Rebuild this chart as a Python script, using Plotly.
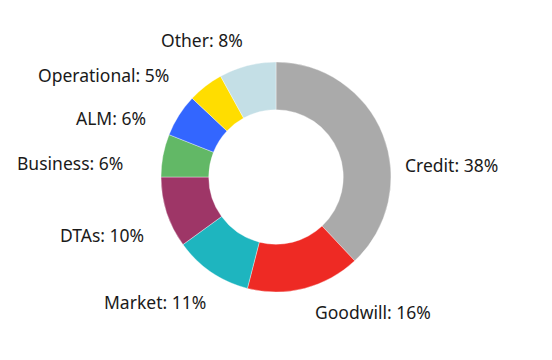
import math
import plotly.graph_objects as go

labels = ["Credit", "Goodwill", "Market", "DTAs", "Business", "ALM", "Operational", "Other"]
values = [38, 16, 11, 10, 6, 6, 5, 8]
colors = ["#aaaaaa", "#ee2a24", "#1eb5bf", "#9e3667", "#62b866", "#3366ff", "#ffdd00", "#c4dfe6"]

# label placement tweaks (angle offset in degrees, radial offset in px)
label_angle_nudge = [16.2, -0.9, -5.7, -6.0, -5.5, -7.6, -8.0, 1.6]
label_radius_nudge = [-14, -2, 0, 0, 10, -1, 4, -1.5]

W, H = 552, 360
PAGE_OFF = 8          # default body margin of the html page
CX, CY = 276, 177     # desired pie centre on screen (px)
R = 115               # outer radius (px)
LABEL_R = 142

cx_div, cy_div = CX - PAGE_OFF, CY - PAGE_OFF
dom_x = [(cx_div - R) / W, (cx_div + R) / W]
dom_y = [1 - (cy_div + R) / H, 1 - (cy_div - R) / H]

fig = go.Figure(go.Pie(
    labels=labels,
    values=values,
    hole=0.585,
    sort=False,
    direction="clockwise",
    rotation=0,
    marker=dict(colors=colors, line=dict(width=0.6, color="rgba(255,255,255,0.6)")),
    textinfo="none",
    hoverinfo="label+percent",
    domain=dict(x=dom_x, y=dom_y),
    showlegend=False,
))

total = sum(values)
cum = 0
annotations = []
for lab, v, an, rn in zip(labels, values, label_angle_nudge, label_radius_nudge):
    mid = (cum + v / 2) / total * 360
    cum += v
    th = math.radians(mid + an)
    r = LABEL_R + rn
    px = cx_div + r * math.sin(th)
    py = cy_div - r * math.cos(th)
    right_side = math.sin(math.radians(mid)) > 0
    annotations.append(dict(
        x=px / W, y=1 - py / H, xref="paper", yref="paper",
        text=f"{lab}: {round(v / total * 100)}%",
        showarrow=False,
        xanchor="left" if right_side else "right",
        yanchor="middle",
        font=dict(family="Noto Sans", size=17.5, color="#1a1a1a"),
    ))

fig.update_layout(
    width=W, height=H,
    margin=dict(l=0, r=0, t=0, b=0),
    paper_bgcolor="white",
    plot_bgcolor="white",
    annotations=annotations,
)
fig.write_html("out.html")
